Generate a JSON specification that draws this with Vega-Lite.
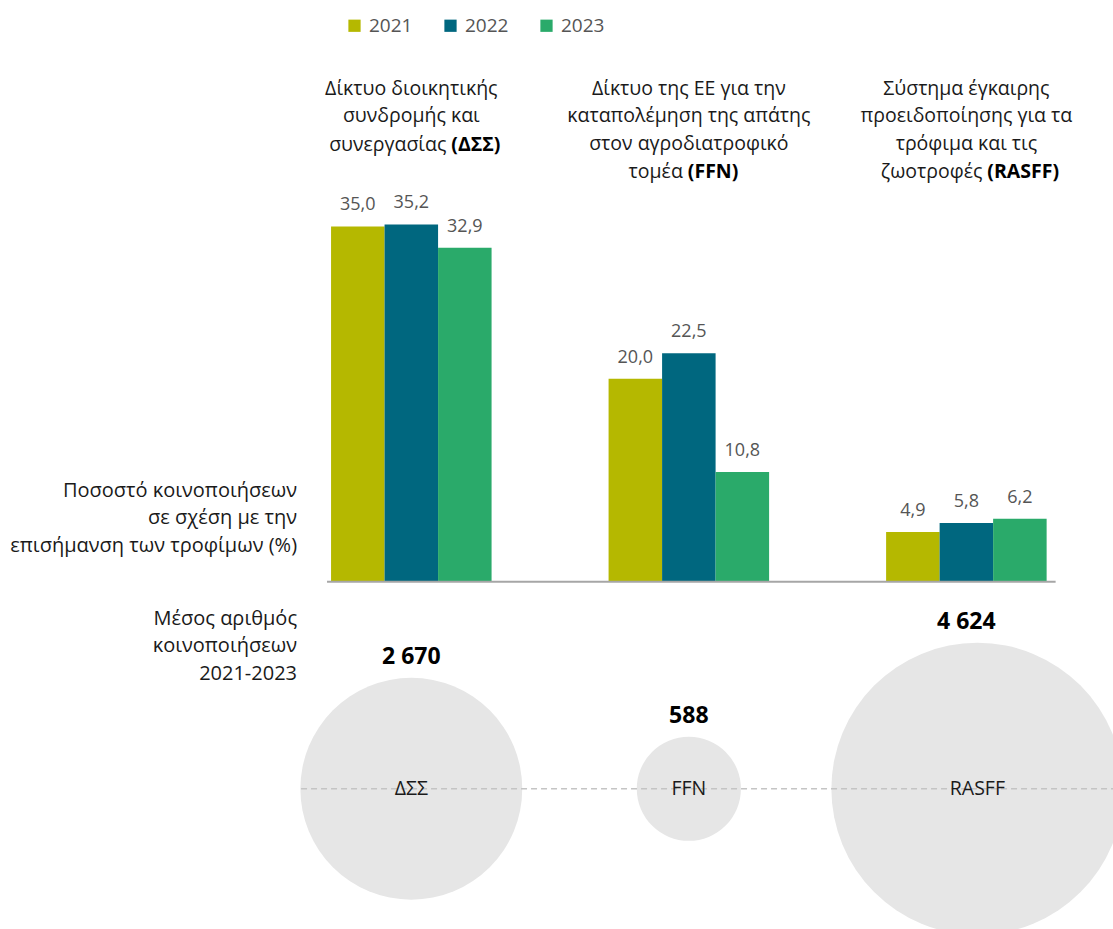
{
  "$schema": "https://vega.github.io/schema/vega-lite/v6.json",
  "width": 1113,
  "height": 929,
  "padding": 0,
  "autosize": {"type": "none"},
  "config": {
    "view": {"stroke": null},
    "font": "Open Sans",
    "locale": {"number": {"decimal": ",", "thousands": " ", "grouping": [3], "currency": ["", " €"]}}
  },
  "datasets": {
    "bars": [
      {"group": "ΔΣΣ", "year": "2021", "value": 35.0},
      {"group": "ΔΣΣ", "year": "2022", "value": 35.2},
      {"group": "ΔΣΣ", "year": "2023", "value": 32.9},
      {"group": "FFN", "year": "2021", "value": 20.0},
      {"group": "FFN", "year": "2022", "value": 22.5},
      {"group": "FFN", "year": "2023", "value": 10.8},
      {"group": "RASFF", "year": "2021", "value": 4.9},
      {"group": "RASFF", "year": "2022", "value": 5.8},
      {"group": "RASFF", "year": "2023", "value": 6.2}
    ],
    "bubbles": [
      {"group": "ΔΣΣ", "count": 2670},
      {"group": "FFN", "count": 588},
      {"group": "RASFF", "count": 4624}
    ],
    "titles": [
      {"group": "ΔΣΣ", "part": "head", "text": "Δίκτυο διοικητικής\nσυνδρομής και"},
      {"group": "ΔΣΣ", "part": "tail", "text": "συνεργασίας"},
      {"group": "ΔΣΣ", "part": "bold", "text": "(ΔΣΣ)"},
      {"group": "FFN", "part": "head", "text": "Δίκτυο της ΕΕ για την\nκαταπολέμηση της απάτης\nστον αγροδιατροφικό"},
      {"group": "FFN", "part": "tail", "text": "τομέα"},
      {"group": "FFN", "part": "bold", "text": "(FFN)"},
      {"group": "RASFF", "part": "head", "text": "Σύστημα έγκαιρης\nπροειδοποίησης για τα\nτρόφιμα και τις"},
      {"group": "RASFF", "part": "tail", "text": "ζωοτροφές"},
      {"group": "RASFF", "part": "bold", "text": "(RASFF)"}
    ],
    "notes": [
      {"kind": "pct", "text": "Ποσοστό κοινοποιήσεων\nσε σχέση με την \nεπισήμανση των τροφίμων (%)"},
      {"kind": "avg", "text": "Μέσος αριθμός\nκοινοποιήσεων\n2021-2023"}
    ]
  },
  "layer": [
    {
      "data": {"name": "bubbles"},
      "transform": [{"filter": "datum.group !== 'RASFF'"}],
      "mark": {"type": "circle", "color": "#e6e6e6", "opacity": 1},
      "encoding": {
        "x": {"field": "group", "type": "nominal", "axis": null,
              "scale": {"type": "band", "domain": ["ΔΣΣ", "FFN", "RASFF"], "paddingInner": 0.4216, "paddingOuter": 0.716, "align": 0.833}},
        "y": {"datum": -20.39, "type": "quantitative", "axis": null,
              "scale": {"domain": [-34.2, 57.3], "nice": false, "zero": false}},
        "size": {"field": "count", "type": "quantitative", "legend": null,
                 "scale": {"type": "linear", "domain": [0, 4624], "range": [0, 85264], "zero": true}}
      }
    },
    {
      "data": {"name": "bubbles"},
      "transform": [{"filter": "datum.group === 'RASFF'"}],
      "mark": {"type": "circle", "color": "#e6e6e6", "opacity": 1, "xOffset": 11},
      "encoding": {
        "x": {"field": "group", "type": "nominal"},
        "y": {"datum": -20.39, "type": "quantitative"},
        "size": {"field": "count", "type": "quantitative", "legend": null}
      }
    },
    {
      "data": {"name": "bubbles"},
      "mark": {"type": "rule", "color": "#c4c4c4", "strokeWidth": 1.5, "strokeDash": [6, 4]},
      "transform": [{"filter": "datum.group === 'ΔΣΣ'"}],
      "encoding": {
        "x": {"datum": "ΔΣΣ", "bandPosition": -0.187},
        "x2": {"datum": "RASFF", "bandPosition": 1.42},
        "y": {"datum": -20.39, "type": "quantitative"}
      }
    },
    {
      "data": {"name": "bubbles"},
      "transform": [{"filter": "datum.group !== 'RASFF'"}],
      "mark": {"type": "text", "fontSize": 19.5, "color": "#1a1a1a", "baseline": "middle", "align": "center"},
      "encoding": {
        "x": {"field": "group", "type": "nominal"},
        "y": {"datum": -20.39, "type": "quantitative"},
        "text": {"field": "group"}
      }
    },
    {
      "data": {"name": "bubbles"},
      "transform": [{"filter": "datum.group === 'RASFF'"}],
      "mark": {"type": "text", "fontSize": 19.5, "color": "#1a1a1a", "baseline": "middle", "align": "center", "xOffset": 11},
      "encoding": {
        "x": {"field": "group", "type": "nominal"},
        "y": {"datum": -20.39, "type": "quantitative"},
        "text": {"field": "group"}
      }
    },
    {
      "data": {"name": "bubbles"},
      "mark": {"type": "text", "fontSize": 23, "fontWeight": "bold", "color": "#000000", "baseline": "alphabetic", "align": "center"},
      "encoding": {
        "x": {"field": "group", "type": "nominal"},
        "y": {"datum": -20.39, "type": "quantitative"},
        "yOffset": {"field": "count", "type": "quantitative",
                    "scale": {"type": "sqrt", "domain": [0, 4624], "range": [-14, -160.2], "zero": true}},
        "text": {"field": "count", "type": "quantitative", "format": ","}
      }
    },
    {
      "data": {"name": "bars"},
      "mark": {"type": "bar"},
      "encoding": {
        "x": {"field": "group", "type": "nominal"},
        "xOffset": {"field": "year", "type": "nominal", "scale": {"paddingInner": 0, "paddingOuter": 0}},
        "y": {"field": "value", "type": "quantitative"},
        "y2": {"datum": 0},
        "color": {"field": "year", "type": "nominal",
                  "scale": {"domain": ["2021", "2022", "2023"], "range": ["#b5b800", "#00677f", "#2aaa6a"]},
                  "legend": {"orient": "none", "legendX": 345, "legendY": 16, "direction": "horizontal", "title": null,
                             "symbolType": "square", "symbolSize": 150, "symbolStrokeWidth": 0,
                             "labelFontSize": 19, "labelColor": "#555555", "columnPadding": 28, "labelOffset": 5}}
      }
    },
    {
      "data": {"name": "bars"},
      "mark": {"type": "text", "fontSize": 18, "color": "#555555", "baseline": "alphabetic", "dy": -16},
      "encoding": {
        "x": {"field": "group", "type": "nominal"},
        "xOffset": {"field": "year", "type": "nominal"},
        "y": {"field": "value", "type": "quantitative"},
        "text": {"field": "value", "type": "quantitative", "format": ",.1f"}
      }
    },
    {
      "data": {"name": "bars"},
      "mark": {"type": "rule", "color": "#a6a6a6", "strokeWidth": 2},
      "transform": [{"filter": "datum.year === '2021' && datum.group === 'ΔΣΣ'"}],
      "encoding": {
        "x": {"datum": "ΔΣΣ", "bandPosition": -0.025},
        "x2": {"datum": "RASFF", "bandPosition": 1.056},
        "y": {"datum": 0, "type": "quantitative"}
      }
    },
    {
      "data": {"name": "titles"},
      "transform": [{"filter": "datum.part === 'head'"}],
      "mark": {"type": "text", "fontSize": 19.5, "color": "#1a1a1a", "baseline": "top", "align": "center", "lineBreak": "\n", "lineHeight": 27.3},
      "encoding": {
        "x": {"field": "group", "type": "nominal"},
        "y": {"datum": 49.41, "type": "quantitative"},
        "text": {"field": "text"}
      }
    },
    {
      "data": {"name": "titles"},
      "transform": [{"filter": "datum.group === 'ΔΣΣ' && datum.part === 'tail'"}],
      "mark": {"type": "text", "fontSize": 19.5, "color": "#1a1a1a", "baseline": "middle", "align": "right", "xOffset": 35},
      "encoding": {"x": {"field": "group", "type": "nominal"}, "y": {"datum": 43.0, "type": "quantitative"}, "text": {"field": "text"}}
    },
    {
      "data": {"name": "titles"},
      "transform": [{"filter": "datum.group === 'ΔΣΣ' && datum.part === 'bold'"}],
      "mark": {"type": "text", "fontSize": 19.5, "fontWeight": "bold", "color": "#000000", "baseline": "middle", "align": "left", "xOffset": 40},
      "encoding": {"x": {"field": "group", "type": "nominal"}, "y": {"datum": 43.0, "type": "quantitative"}, "text": {"field": "text"}}
    },
    {
      "data": {"name": "titles"},
      "transform": [{"filter": "datum.group === 'FFN' && datum.part === 'tail'"}],
      "mark": {"type": "text", "fontSize": 19.5, "color": "#1a1a1a", "baseline": "middle", "align": "right", "xOffset": -6},
      "encoding": {"x": {"field": "group", "type": "nominal"}, "y": {"datum": 40.4, "type": "quantitative"}, "text": {"field": "text"}}
    },
    {
      "data": {"name": "titles"},
      "transform": [{"filter": "datum.group === 'FFN' && datum.part === 'bold'"}],
      "mark": {"type": "text", "fontSize": 19.5, "fontWeight": "bold", "color": "#000000", "baseline": "middle", "align": "left", "xOffset": -1},
      "encoding": {"x": {"field": "group", "type": "nominal"}, "y": {"datum": 40.4, "type": "quantitative"}, "text": {"field": "text"}}
    },
    {
      "data": {"name": "titles"},
      "transform": [{"filter": "datum.group === 'RASFF' && datum.part === 'tail'"}],
      "mark": {"type": "text", "fontSize": 19.5, "color": "#1a1a1a", "baseline": "middle", "align": "right", "xOffset": 16},
      "encoding": {"x": {"field": "group", "type": "nominal"}, "y": {"datum": 40.4, "type": "quantitative"}, "text": {"field": "text"}}
    },
    {
      "data": {"name": "titles"},
      "transform": [{"filter": "datum.group === 'RASFF' && datum.part === 'bold'"}],
      "mark": {"type": "text", "fontSize": 19.5, "fontWeight": "bold", "color": "#000000", "baseline": "middle", "align": "left", "xOffset": 21},
      "encoding": {"x": {"field": "group", "type": "nominal"}, "y": {"datum": 40.4, "type": "quantitative"}, "text": {"field": "text"}}
    },
    {
      "data": {"name": "notes"},
      "transform": [{"filter": "datum.kind === 'pct'"}],
      "mark": {"type": "text", "fontSize": 20, "color": "#1a1a1a", "baseline": "middle", "align": "right", "lineBreak": "\n", "lineHeight": 27.5, "xOffset": -34},
      "encoding": {"x": {"datum": "ΔΣΣ", "bandPosition": 0}, "y": {"datum": 8.97, "type": "quantitative"}, "text": {"field": "text"}}
    },
    {
      "data": {"name": "notes"},
      "transform": [{"filter": "datum.kind === 'avg'"}],
      "mark": {"type": "text", "fontSize": 20, "color": "#1a1a1a", "baseline": "middle", "align": "right", "lineBreak": "\n", "lineHeight": 27.5, "xOffset": -34},
      "encoding": {"x": {"datum": "ΔΣΣ", "bandPosition": 0}, "y": {"datum": -3.65, "type": "quantitative"}, "text": {"field": "text"}}
    }
  ]
}
